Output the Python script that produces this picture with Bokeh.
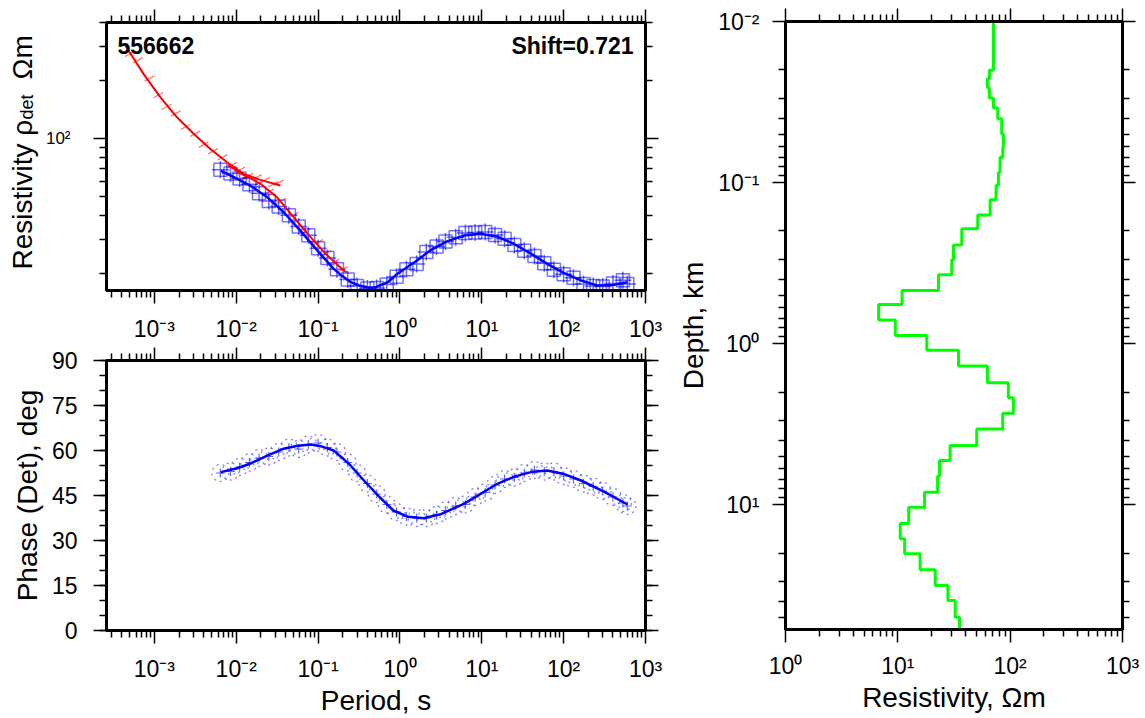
import math
from bokeh.plotting import figure
from bokeh.models import LogAxis, LinearAxis, FixedTicker, CustomJSTickFormatter, Label, Range1d
from bokeh.layouts import row, column
from bokeh.embed import file_html
from bokeh.resources import INLINE

FONT = "Liberation Sans"

# ---------------- data ----------------
station = "556662"
shift_text = "Shift=0.721"

# observed (blue) periods, apparent resistivity (Ohm m) and phase (deg)
obs_period = [0.0064, 0.0085, 0.011, 0.0145, 0.019, 0.025, 0.033, 0.044, 0.058, 0.076,
              0.1, 0.13, 0.17, 0.23, 0.3, 0.4, 0.52, 0.69, 0.91, 1.2,
              1.6, 2.1, 2.8, 3.6, 4.8, 6.3, 8.3, 11, 14.5, 19,
              25, 33, 44, 58, 76, 100, 132, 175, 230, 300, 400, 530, 600]
obs_rho = [69, 66, 62, 58, 52, 47.5, 44.5, 40, 35, 31.5,
           27, 24, 21, 18.6, 17.2, 16.7, 16.8, 17.5, 19.2, 21,
           22.4, 25.8, 27.6, 29.3, 30.8, 32.4, 32.6, 32.8, 31.6, 30.2,
           28.1, 26.2, 24.6, 22.6, 20.9, 19.8, 19.0, 17.6, 17.2, 17.1, 17.7, 18.4, 17.6]
obs_phase = [52.5, 53, 54.5, 56, 57.5, 58, 59.5, 61, 60.5, 62,
             62.5, 61, 59.5, 56, 52.5, 49, 45.5, 42, 39.5, 38,
             37.5, 37.5, 38.5, 40, 41.5, 42, 44.5, 46, 48.5, 50.5,
             51, 52.5, 53.5, 53, 53, 51.5, 50.5, 49, 48, 46.5, 44.5, 42.5, 41.5]

# model response (blue lines)
model_period = [0.00646, 0.00933, 0.01479, 0.02399, 0.03802, 0.06026, 0.09772, 0.1549, 0.1995, 0.2512,
                0.3162, 0.3981, 0.5012, 0.7079, 0.9333, 1.585, 2.344, 3.715, 6.026, 9.55,
                15.14, 24.55, 39.81, 63.1, 100, 162.2, 257, 398, 602.6]
model_rho = [68.2, 63.1, 57.1, 49.6, 41.5, 33.4, 26.3, 21.1, 19.3, 18.0,
             17.3, 16.9, 16.9, 18.0, 19.9, 23.2, 26.3, 29.2, 31.4, 32.1,
             31.1, 28.5, 25.3, 22.4, 20.1, 18.4, 17.3, 17.4, 18.0]
phase_model_period = [0.00646, 0.01, 0.01479, 0.02399, 0.03802, 0.05623, 0.08128, 0.1122, 0.1549, 0.2399,
                      0.3631, 0.5623, 0.8318, 1.259, 1.950, 3.162, 6.026, 10.0, 15.49, 25.12,
                      39.81, 63.1, 100, 162.2, 316.2, 602.6]
phase_model = [52.8, 54.0, 55.6, 58.3, 60.6, 61.6, 62.0, 61.3, 60.0, 55.5,
               50.0, 44.5, 40.0, 37.9, 37.4, 38.8, 42.2, 45.8, 48.9, 51.3,
               52.8, 53.3, 52.2, 50.0, 46.2, 42.0]

# shifted (red) curves and data
red1_period = [0.000443, 0.00074, 0.00118, 0.00189, 0.00302, 0.00483, 0.00773, 0.01233, 0.01972, 0.03467]
red1_rho = [303, 216, 164, 129, 106, 88.4, 75.4, 65.6, 61.1, 57.1]
red2_period = [0.00794, 0.01122, 0.01585, 0.01972, 0.03155, 0.05035, 0.08054, 0.1288, 0.2056, 0.2239]
red2_rho = [73, 66, 61.5, 58.3, 49.6, 39.1, 30.9, 24.8, 20.7, 20.2]
red_obs_period = [0.0005, 0.00063, 0.00087, 0.00112, 0.00141, 0.00182, 0.0024, 0.00316, 0.004, 0.0052,
                  0.0068, 0.0089, 0.0112, 0.0141, 0.0178, 0.0224, 0.0282, 0.0331,
                  0.0126, 0.0178, 0.0251, 0.0355, 0.0501, 0.0708, 0.1, 0.126, 0.158, 0.2]
red_obs_rho = [275, 255, 205, 168, 146, 135, 115, 106, 93, 86,
               80, 73, 69, 64, 63, 61, 58, 59,
               63, 58, 53, 47.5, 40, 33, 29, 25.5, 23, 21]

# layered model (green): layer top depths (km) and resistivity (Ohm m)
layer_top = [0.01, 0.0201, 0.0227, 0.0258, 0.0299, 0.0344, 0.0402, 0.0499, 0.0604, 0.0697,
             0.0863, 0.1044, 0.128, 0.159, 0.194, 0.244, 0.302, 0.374, 0.469, 0.573,
             0.713, 0.891, 1.10, 1.38, 1.75, 2.17, 2.71, 3.39, 4.30, 5.33,
             6.67, 8.39, 10.4, 13.1, 16.3, 20.2, 25.4, 31.8, 39.5, 50.1]
layer_rho = [71, 65.3, 62.7, 65.3, 71, 77.5, 84.1, 87, 86, 81.3,
             78.6, 74.9, 66.3, 51.5, 37.1, 31.3, 30.2, 23, 10.9, 6.75,
             9.49, 18.1, 34.7, 62.7, 96.4, 106.7, 85.8, 50.4, 29.2, 23.5,
             22.6, 17.3, 12.5, 10.5, 11.5, 15.8, 21.5, 27.9, 32.4, 35.4]
depth_max = 59.7

# ranges / tick labels
period_range = (2.6e-4, 1000.0)
rho_range = (16.3, 400.0)
phase_ticks = [0, 15, 30, 45, 60, 75, 90]
model_rho_range = (1.0, 1000.0)

# ---------------- helpers ----------------
SUP = """
const sup = {"-":"\u207b","0":"\u2070","1":"\u00b9","2":"\u00b2","3":"\u00b3","4":"\u2074","5":"\u2075","6":"\u2076","7":"\u2077","8":"\u2078","9":"\u2079"};
const e = Math.round(Math.log10(tick));
return "10" + String(e).split("").map(c => sup[c]).join("");
"""


def log_ticker(k0, k1):
    return FixedTicker(ticks=[10.0 ** k for k in range(k0, k1 + 1)],
                       minor_ticks=[m * 10.0 ** k for k in range(k0, k1) for m in range(2, 10)])


def style(ax, labels=True, standoff=12, size="23px"):
    ax.axis_line_color = "black"
    ax.axis_line_width = 3
    ax.major_tick_line_color = "black"
    ax.major_tick_line_width = 1.5
    ax.minor_tick_line_color = "black"
    ax.minor_tick_line_width = 1.5
    ax.major_tick_in = 0
    ax.major_tick_out = 13
    ax.minor_tick_in = 0
    ax.minor_tick_out = 7
    ax.major_label_text_font = FONT
    ax.major_label_text_font_size = size if labels else "0px"
    ax.major_label_text_color = "black"
    ax.major_label_standoff = standoff if labels else 0
    ax.axis_label_text_font = FONT
    ax.axis_label_text_font_size = "28px"
    ax.axis_label_text_font_style = "normal"
    ax.axis_label_text_color = "black"
    if not labels:
        ax.formatter = CustomJSTickFormatter(code="return ''")


def base_fig(**kw):
    p = figure(output_backend="svg", toolbar_location=None, **kw)
    p.outline_line_color = "black"
    p.outline_line_width = 3
    p.xgrid.visible = False
    p.ygrid.visible = False
    p.background_fill_color = "white"
    p.border_fill_color = "white"
    return p


def text_label(p, x, y, text, angle=0.0, align="center", size="28px", style_="normal"):
    p.add_layout(Label(x=x, y=y, x_units="screen", y_units="screen", text=text,
                       angle=angle, text_font=FONT, text_font_size=size,
                       text_font_style=style_, text_align=align,
                       text_baseline="alphabetic", text_color="black"))


# ---------------- label strip for the resistivity axis title ----------------
# (its frame is aligned with the frame of the resistivity panel)
lab1 = figure(output_backend="svg", toolbar_location=None, width=40, height=345,
              x_range=Range1d(0, 1), y_range=Range1d(0, 1),
              x_axis_location=None, y_axis_location=None,
              min_border=0, min_border_left=0, min_border_right=0,
              min_border_top=0, min_border_bottom=0)
lab1.outline_line_color = None
lab1.xgrid.visible = False
lab1.ygrid.visible = False
text_label(lab1, 22, 21, "Resistivity \u03c1", angle=math.pi / 2, align="left")
text_label(lab1, 26, 171, "det", angle=math.pi / 2, align="left", size="18px")
text_label(lab1, 22, 211, "\u03a9m", angle=math.pi / 2, align="left")

# ---------------- top-left: apparent resistivity ----------------
p1 = base_fig(x_axis_type="log", y_axis_type="log",
              x_range=Range1d(*period_range), y_range=Range1d(*rho_range),
              frame_width=539, frame_height=268,
              min_border_left=66, min_border_right=30, min_border_top=22, min_border_bottom=55)
p1.xaxis[0].ticker = log_ticker(-4, 3)
p1.xaxis[0].formatter = CustomJSTickFormatter(code=SUP)
style(p1.xaxis[0], standoff=12)
p1.yaxis[0].ticker = log_ticker(1, 3)
p1.yaxis[0].formatter = CustomJSTickFormatter(code=SUP)
style(p1.yaxis[0], standoff=23, size="17px")
a = LogAxis(ticker=log_ticker(-4, 3)); style(a, labels=False); p1.add_layout(a, "above")
a = LogAxis(ticker=log_ticker(1, 3)); style(a, labels=False); p1.add_layout(a, "right")

p1.scatter(red_obs_period, red_obs_rho, marker="dash", size=11, line_color="red",
           line_alpha=0.55, line_width=1.3, angle=0.5)
p1.scatter(obs_period, obs_rho, marker="square", size=13, fill_color=None,
           line_color="blue", line_alpha=0.55, line_width=1.5)
p1.scatter(obs_period, obs_rho, marker="cross", size=17, line_color="blue",
           line_alpha=0.6, line_width=1.5)
p1.line(model_period, model_rho, line_color="blue", line_width=2.5)
p1.line(red1_period, red1_rho, line_color="red", line_width=2)
p1.line(red2_period, red2_rho, line_color="red", line_width=2)

text_label(p1, 11, 245, station, align="left", size="23px", style_="bold")
text_label(p1, 527, 245, shift_text, align="right", size="23px", style_="bold")

# ---------------- bottom-left: phase ----------------
p2 = base_fig(x_axis_type="log", x_range=Range1d(*period_range), y_range=Range1d(0, 90),
              frame_width=539, frame_height=270,
              min_border_left=106, min_border_right=30, min_border_top=15, min_border_bottom=86)
p2.xaxis[0].ticker = log_ticker(-4, 3)
p2.xaxis[0].formatter = CustomJSTickFormatter(code=SUP)
style(p2.xaxis[0], standoff=12)
p2.xaxis[0].axis_label = "Period, s"
p2.xaxis[0].axis_label_standoff = 0
p2.yaxis[0].ticker = FixedTicker(ticks=phase_ticks, minor_ticks=list(range(0, 91, 5)))
style(p2.yaxis[0], standoff=16)
p2.yaxis[0].axis_label = "Phase (Det), deg"
p2.yaxis[0].axis_label_standoff = 6
a = LogAxis(ticker=log_ticker(-4, 3)); style(a, labels=False); p2.add_layout(a, "above")
a = LinearAxis(ticker=FixedTicker(ticks=phase_ticks, minor_ticks=list(range(0, 91, 5))))
style(a, labels=False); p2.add_layout(a, "right")

p2.scatter(obs_period, obs_phase, marker="circle", size=17, fill_color=None,
           line_color="blue", line_alpha=0.5, line_dash="dotted", line_width=1.3)
p2.scatter(obs_period, obs_phase, marker="cross", size=9, line_color="blue",
           line_alpha=0.6, line_width=1.2)
p2.line(phase_model_period, phase_model, line_color="blue", line_width=2.5)

# ---------------- right: layered model ----------------
p3 = base_fig(x_axis_type="log", y_axis_type="log",
              x_range=Range1d(*model_rho_range), y_range=Range1d(depth_max, 0.01),
              frame_width=337, frame_height=608,
              min_border_left=107, min_border_right=24, min_border_top=21, min_border_bottom=85)
p3.xaxis[0].ticker = log_ticker(0, 3)
p3.xaxis[0].formatter = CustomJSTickFormatter(code=SUP)
style(p3.xaxis[0], standoff=10)
p3.xaxis[0].axis_label = "Resistivity, \u03a9m"
p3.xaxis[0].axis_label_standoff = 0
p3.yaxis[0].ticker = log_ticker(-2, 2)
p3.yaxis[0].formatter = CustomJSTickFormatter(code=SUP)
style(p3.yaxis[0], standoff=13)
p3.yaxis[0].axis_label = "Depth, km"
p3.yaxis[0].axis_label_standoff = 6
a = LogAxis(ticker=log_ticker(0, 3)); style(a, labels=False); p3.add_layout(a, "above")
a = LogAxis(ticker=log_ticker(-2, 2)); style(a, labels=False); p3.add_layout(a, "right")

bounds = layer_top + [depth_max]
step_x, step_y = [], []
for i, r in enumerate(layer_rho):
    step_x += [r, r]
    step_y += [bounds[i], bounds[i + 1]]
p3.line(step_x, step_y, line_color="#00ff00", line_width=3)

layout = row(column(row(lab1, p1), p2), p3)
open("out.html", "w").write(file_html(layout, INLINE))
